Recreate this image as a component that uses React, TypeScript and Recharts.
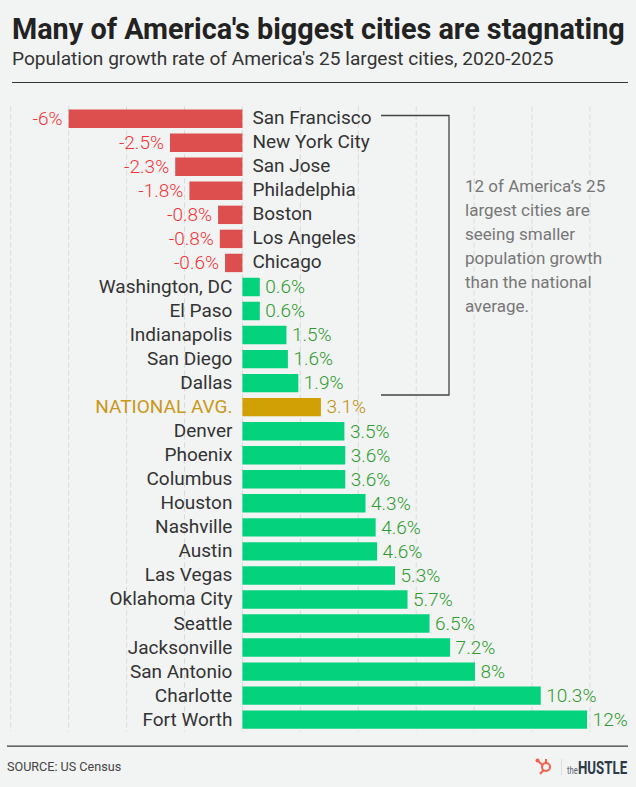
import React from "react";
import { BarChart, Bar, XAxis, YAxis, CartesianGrid, Cell, LabelList } from "recharts";

const cities = ["San Francisco","New York City","San Jose","Philadelphia","Boston","Los Angeles","Chicago","Washington, DC","El Paso","Indianapolis","San Diego","Dallas","NATIONAL AVG.","Denver","Phoenix","Columbus","Houston","Nashville","Austin","Las Vegas","Oklahoma City","Seattle","Jacksonville","San Antonio","Charlotte","Fort Worth"];
const values = [-6,-2.5,-2.32,-1.83,-0.84,-0.78,-0.6,0.6,0.6,1.52,1.57,1.93,2.71,3.52,3.55,3.55,4.25,4.6,4.65,5.27,5.7,6.46,7.17,8.03,10.3,11.9];
const valueLabels = ["-6%","-2.5%","-2.3%","-1.8%","-0.8%","-0.8%","-0.6%","0.6%","0.6%","1.5%","1.6%","1.9%","3.1%","3.5%","3.6%","3.6%","4.3%","4.6%","4.6%","5.3%","5.7%","6.5%","7.2%","8%","10.3%","12%"];
const gridTicks = [-8,-6,-4,-2,0,2,4,6,8,10,12];
const noteLines = ["12 of America’s 25","largest cities are","seeing smaller","population growth","than the national","average."];
const AVG = "NATIONAL AVG.";

const rows = cities.map((city, i) => ({ city, value: values[i], label: valueLabels[i] }));
const FONT = "Roboto, sans-serif";
const barColor = (r: any) => r.city === AVG ? "#d1a005" : r.value < 0 ? "#dd4f4f" : "#05d27c";
const labelColor = (r: any) => r.city === AVG ? "#c08f0c" : r.value < 0 ? "#f53338" : "#2f9c2f";

const NameLabel = (p: any) => {
  const r = rows[p.index];
  const zero = r.value < 0 ? Math.max(p.x, p.x + p.width) : Math.min(p.x, p.x + p.width);
  return (
    <text x={r.value < 0 ? zero + 10 : zero - 10} y={p.y + p.height / 2} dy={r.value < 0 ? 5.3 : 6} textAnchor={r.value < 0 ? "start" : "end"}
      fontFamily={FONT} fontSize={19} fill={r.city === AVG ? "#c9991a" : "#333"}>{r.city}</text>
  );
};
const ValueLabel = (p: any) => {
  const r = rows[p.index];
  const left = Math.min(p.x, p.x + p.width), right = Math.max(p.x, p.x + p.width);
  return (
    <text x={r.value < 0 ? left - 6 : right + 5.5} y={p.y + p.height / 2} dy={6.3} textAnchor={r.value < 0 ? "end" : "start"}
      fontFamily={FONT} fontWeight={300} fontSize={19} fill={labelColor(r)}>{r.label}</text>
  );
};

export default function App() {
  return (
    <div style={{ position: "absolute", left: 0, top: 0, width: 636, height: 787, background: "#f2f3f3", overflow: "hidden", fontFamily: FONT }}>
      <div style={{ position: "absolute", left: 12, top: 12, fontSize: 28.8, fontWeight: 700, color: "#222", whiteSpace: "nowrap", lineHeight: "34px" }}>Many of America's biggest cities are stagnating</div>
      <div style={{ position: "absolute", left: 12, top: 47, fontSize: 19.1, color: "#333", whiteSpace: "nowrap", lineHeight: "24px" }}>Population growth rate of America's 25 largest cities, 2020-2025</div>
      <div style={{ position: "absolute", left: 12, width: 616, top: 82, height: 1, background: "#333" }} />
      <div style={{ position: "absolute", left: 0, top: 0 }}>
        <BarChart width={636} height={787} data={rows} layout="vertical" margin={{ top: 106.5, bottom: 55.5, left: 10.7, right: 46 }} barSize={18.4}>
          <CartesianGrid horizontal={false} vertical strokeDasharray="5 3" stroke="#d9d9d9" />
          <XAxis type="number" domain={[-8, 12]} ticks={gridTicks} hide />
          <YAxis type="category" dataKey="city" hide />
          <Bar dataKey="value" isAnimationActive={false}>
            {rows.map((r) => <Cell key={r.city} fill={barColor(r)} />)}
            <LabelList dataKey="city" content={NameLabel} />
            <LabelList dataKey="label" content={ValueLabel} />
          </Bar>
        </BarChart>
      </div>
      <svg width={636} height={787} style={{ position: "absolute", left: 0, top: 0 }}>
        <polyline points="381,115.5 449,115.5 449,395 381,395" fill="none" stroke="#444" strokeWidth={1.3} />
        {noteLines.map((t, i) => (
          <text key={t} x={465} y={192 + i * 24} fontFamily={FONT} fontSize={17} fill="#777">{t}</text>
        ))}
        <rect x={7} y={745.5} width={621} height={1.3} fill="#444" />
        <text x={7} y={771} fontFamily={FONT} fontSize={12.6} fill="#444">SOURCE: US Census</text>
        <g stroke="#f4604a" fill="none" strokeWidth={2}>
          <circle cx={546} cy={767} r={4} />
          <line x1={546} y1={763} x2={546} y2={759} />
          <line x1={542.5} y1={765} x2={538} y2={761} />
          <line x1={543.5} y1={770} x2={540} y2={774} />
        </g>
        <circle cx={537.5} cy={760.5} r={2} fill="#f4604a" />
        <line x1={561.5} y1={759} x2={561.5} y2={775} stroke="#ddd" />
        <text transform="translate(567,774) scale(0.72,1.1)" fontFamily={FONT} fontSize={10.5} fill="#55606b">the</text>
        <text transform="translate(578,774) scale(0.78,1.06)" fontFamily={FONT} fontWeight={700} fontSize={17} fill="#2c3a47">HUSTLE</text>
      </svg>
    </div>
  );
}
